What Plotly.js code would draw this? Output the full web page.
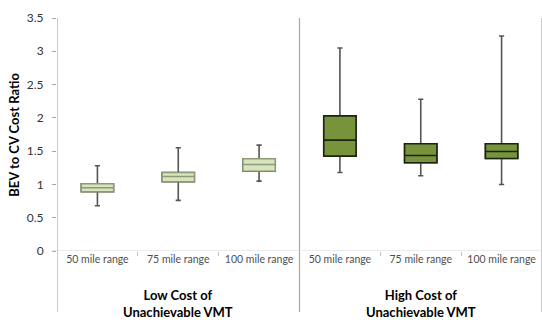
<!DOCTYPE html>
<html>
<head>
<meta charset="utf-8">
<script src="https://cdn.plot.ly/plotly-3.0.1.min.js"></script>
<style>html,body{margin:0;padding:0;background:#fff;}#chart{width:542px;height:320px;}</style>
</head>
<body>
<div id="chart"></div>
<script>
// ---- data ----
const categories = ["50 mile range", "75 mile range", "100 mile range"];
const groups = ["Low Cost of<br>Unachievable VMT", "High Cost of<br>Unachievable VMT"];

const lowMin = [0.68, 0.76, 1.05];
const lowQ1  = [0.89, 1.04, 1.20];
const lowMed = [0.95, 1.12, 1.30];
const lowQ3  = [1.01, 1.18, 1.385];
const lowMax = [1.28, 1.55, 1.59];

const highMin = [1.18, 1.13, 1.00];
const highQ1  = [1.425, 1.325, 1.39];
const highMed = [1.665, 1.435, 1.495];
const highQ3  = [2.03, 1.61, 1.61];
const highMax = [3.05, 2.28, 3.23];

const yTicks = [0, 0.5, 1, 1.5, 2, 2.5, 3, 3.5];

// ---- positions ----
const n = categories.length;
const xLow = categories.map((c, i) => i + 0.5);
const xHigh = categories.map((c, i) => n + i + 0.5);
const tickVals = xLow.concat(xHigh);
const tickText = categories.concat(categories);

const FONT = "Lato, 'Open Sans', sans-serif";
const whiskerColor = "#555555";

function whiskers(x, mn, q1, med, q3, mx) {
  return {type: "box", x: x, q1: q1, median: med, q3: q3, lowerfence: mn, upperfence: mx,
    width: 0.4, whiskerwidth: 0.16, line: {color: whiskerColor, width: 1.6},
    fillcolor: "rgba(0,0,0,0)", boxpoints: false, hoverinfo: "skip", showlegend: false};
}
function body(x, q1, med, q3, fill, lc, lw) {
  return {type: "box", x: x, q1: q1, median: med, q3: q3, lowerfence: q1, upperfence: q3,
    width: 0.4, whiskerwidth: 0, line: {color: lc, width: lw},
    fillcolor: fill, boxpoints: false, hoverinfo: "skip", showlegend: false};
}

const data = [
  whiskers(xLow, lowMin, lowQ1, lowMed, lowQ3, lowMax),
  whiskers(xHigh, highMin, highQ1, highMed, highQ3, highMax),
  body(xLow, lowQ1, lowMed, lowQ3, "#d7e4bd", "#8c9a78", 1.4),
  body(xHigh, highQ1, highMed, highQ3, "#77933c", "#1c2410", 1.6)
];

const bottomY = -0.262;
const shapes = [0, n, 2 * n].map(v => ({type: "line", xref: "x", yref: "paper",
  x0: v, x1: v, y0: bottomY, y1: 1, line: {color: "#a6a6a6", width: 1.2}}));
shapes.push({type: "line", xref: "paper", yref: "y", x0: -0.012, x1: 1, y0: 0, y1: 0,
  line: {color: "#d9d9d9", width: 1.2}});

const annotations = groups.map((g, i) => ({text: "<b>" + g + "</b>", xref: "x", yref: "paper",
  x: i * n + n / 2, y: -0.225, yanchor: "middle", showarrow: false,
  font: {family: FONT, size: 13, color: "#000"}}));
annotations.push({text: "<b>BEV to CV Cost Ratio</b>", xref: "paper", yref: "paper",
  x: -0.09, y: 0.5, xanchor: "center", yanchor: "middle", textangle: -90, showarrow: false,
  font: {family: FONT, size: 13, color: "#000"}});

const layout = {
  width: 542, height: 320,
  margin: {l: 57, r: 0, t: 18, b: 69},
  paper_bgcolor: "#fff", plot_bgcolor: "#fff",
  showlegend: false,
  boxmode: "overlay",
  xaxis: {range: [0, 2 * n], tickmode: "array", tickvals: tickVals, ticktext: tickText,
    ticks: "", showgrid: false, zeroline: false, showline: false,
    tickfont: {family: FONT, size: 10.5, color: "#4f4f4f"},
    minor: {tickmode: "array", tickvals: [1, 2, n + 1, n + 2], ticks: "outside", ticklen: 4,
      tickcolor: "#bfbfbf", tickwidth: 1, showgrid: false},
    fixedrange: true},
  yaxis: {range: [0, 3.5], tickmode: "array", tickvals: yTicks, ticks: "outside", ticklen: 4,
    tickcolor: "#a6a6a6", showgrid: false, zeroline: false, showline: false,
    ticklabelstandoff: 6,
    tickfont: {family: FONT, size: 12, color: "#333333"}, fixedrange: true},
  shapes: shapes,
  annotations: annotations
};

Plotly.newPlot("chart", data, layout, {staticPlot: true});
</script>
</body>
</html>
